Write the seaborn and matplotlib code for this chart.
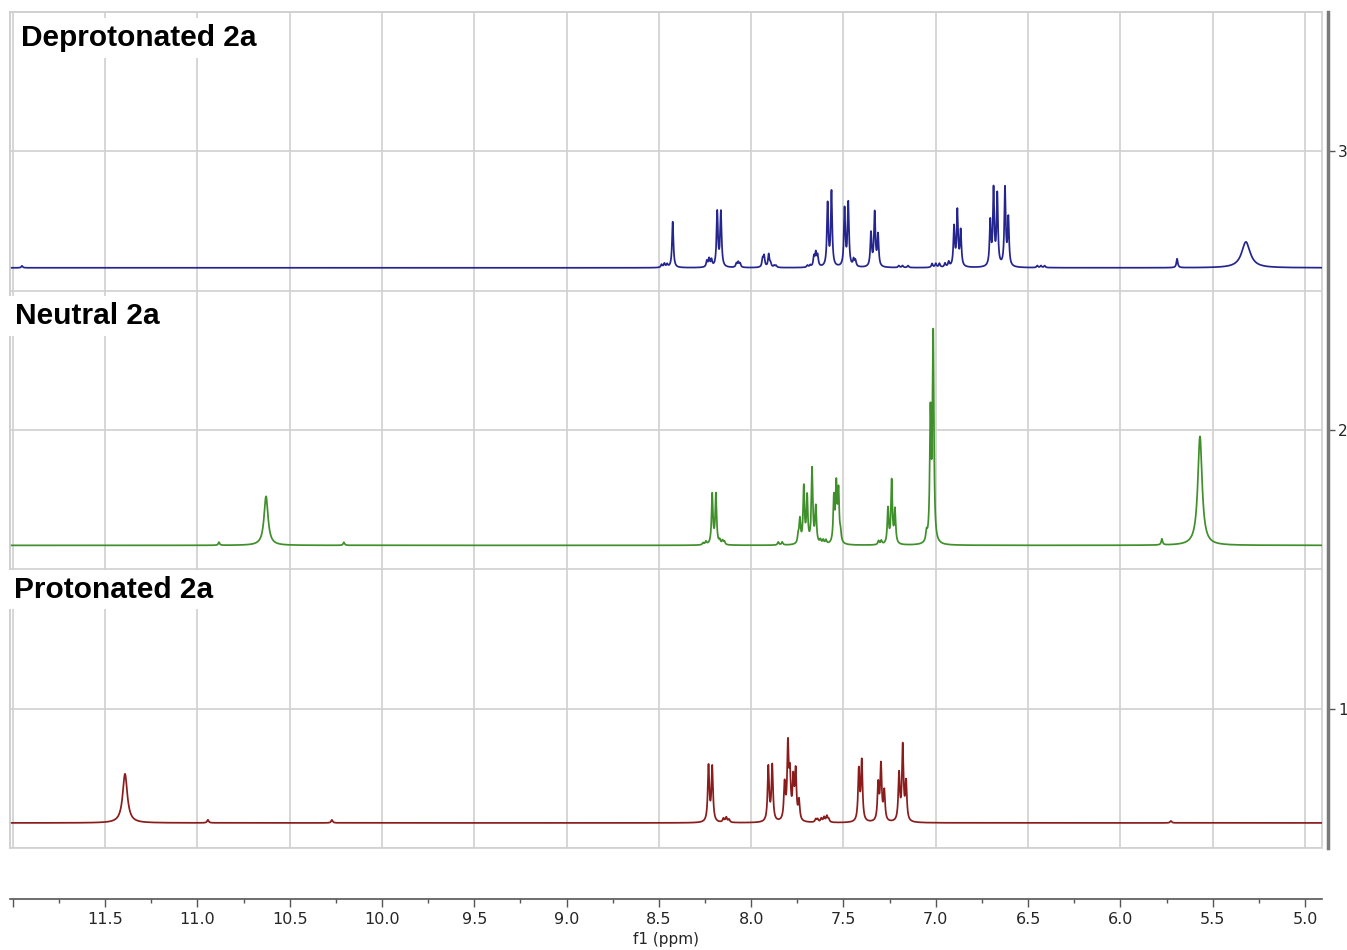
import numpy as np
import pandas as pd
import matplotlib
matplotlib.use("Agg")
import matplotlib.pyplot as plt
from matplotlib.patches import Rectangle
from matplotlib.ticker import FixedLocator, FixedFormatter, MultipleLocator
import seaborn as sns

# peak lists
# shift in ppm, height in stack units (1 unit = spacing of right axis ticks)
dep_shift = [11.95, 8.485, 8.47, 8.455, 8.425, 8.24, 8.228, 8.215, 8.184, 8.164,
             8.08, 8.07, 8.06, 7.938, 7.930, 7.905, 7.895, 7.875, 7.865, 7.695,
             7.68, 7.66, 7.65, 7.64, 7.586, 7.565, 7.494, 7.474, 7.445, 7.435,
             7.351, 7.331, 7.313, 7.20, 7.18, 7.15, 7.02, 7.00, 6.98, 6.95,
             6.93, 6.901, 6.883, 6.865, 6.705, 6.687, 6.667, 6.625, 6.607, 6.45,
             6.43, 6.41, 5.693]
dep_height = [0.007, 0.011, 0.014, 0.011, 0.165, 0.022, 0.029, 0.025, 0.197, 0.197,
              0.014, 0.018, 0.014, 0.029, 0.039, 0.047, 0.014, 0.007, 0.007, 0.007,
              0.007, 0.036, 0.047, 0.039, 0.225, 0.268, 0.207, 0.228, 0.025, 0.022,
              0.120, 0.193, 0.113, 0.007, 0.007, 0.007, 0.014, 0.014, 0.014, 0.014,
              0.018, 0.141, 0.198, 0.127, 0.158, 0.272, 0.255, 0.280, 0.170, 0.007,
              0.007, 0.007, 0.032]
dep_broad_shift = [5.32]
dep_broad_height = [0.093]
dep_broad_hwhm = [0.028]

neu_shift = [10.883, 10.206, 8.26, 8.245, 8.211, 8.191, 8.17, 8.155, 8.145, 7.853,
             7.832, 7.745, 7.736, 7.715, 7.697, 7.670, 7.650, 7.625, 7.61, 7.595,
             7.552, 7.539, 7.527, 7.516, 7.31, 7.295, 7.259, 7.239, 7.221, 7.05,
             7.029, 7.014, 5.775]
neu_height = [0.011, 0.011, 0.007, 0.011, 0.180, 0.180, 0.014, 0.014, 0.011, 0.011,
              0.011, 0.029, 0.084, 0.202, 0.166, 0.268, 0.130, 0.014, 0.014, 0.014,
              0.160, 0.200, 0.180, 0.032, 0.014, 0.014, 0.126, 0.226, 0.121, 0.032,
              0.450, 0.740, 0.022]
neu_broad_shift = [10.628, 5.569]
neu_broad_height = [0.176, 0.391]
neu_broad_hwhm = [0.013, 0.014]

pro_shift = [10.943, 10.271, 8.231, 8.211, 8.15, 8.135, 8.12, 7.907, 7.886, 7.819,
             7.801, 7.790, 7.772, 7.759, 7.741, 7.65, 7.64, 7.62, 7.605, 7.59,
             7.58, 7.417, 7.401, 7.312, 7.297, 7.279, 7.199, 7.179, 7.161, 5.726]
pro_height = [0.011, 0.011, 0.200, 0.196, 0.014, 0.018, 0.011, 0.196, 0.200, 0.128,
              0.262, 0.150, 0.140, 0.172, 0.070, 0.011, 0.011, 0.014, 0.018, 0.022,
              0.011, 0.182, 0.214, 0.130, 0.198, 0.105, 0.168, 0.268, 0.136, 0.007]
pro_broad_shift = [11.392]
pro_broad_height = [0.176]
pro_broad_hwhm = [0.015]

samples = ["Deprotonated 2a", "Neutral 2a", "Protonated 2a"]
baselines = [2.582, 1.586, 0.590]
line_hwhm = [0.0045, 0.0045, 0.005]
colors = ["#25258f", "#3f8f2a", "#8a1c1c"]

ppm = np.arange(4.90, 12.02, 0.0004)


def lorentz_sum(shifts, heights, hwhm):
    hwhm = np.broadcast_to(hwhm, (len(shifts),))
    y = np.zeros_like(ppm)
    for c, h, w in zip(shifts, heights, hwhm):
        y += h * w**2 / ((ppm - c)**2 + w**2)
    return y


peak_sets = [
    (dep_shift, dep_height, dep_broad_shift, dep_broad_height, dep_broad_hwhm),
    (neu_shift, neu_height, neu_broad_shift, neu_broad_height, neu_broad_hwhm),
    (pro_shift, pro_height, pro_broad_shift, pro_broad_height, pro_broad_hwhm),
]

frames = []
for name, base, lw, (s, h, bs, bh, bw) in zip(samples, baselines, line_hwhm, peak_sets):
    y = base + lorentz_sum(s, h, lw) + lorentz_sum(bs, bh, bw)
    frames.append(pd.DataFrame({"ppm": ppm, "intensity": y, "sample": name}))
df = pd.concat(frames, ignore_index=True)

sns.set_theme(style="whitegrid")
plt.rcParams["font.family"] = ["DejaVu Sans"]

fig = plt.figure(figsize=(13.47, 9.5), dpi=100)
ax = fig.add_axes([10 / 1347, 102 / 950, 1312 / 1347, 836 / 950])

sns.lineplot(data=df, x="ppm", y="intensity", hue="sample",
             palette=dict(zip(samples, colors)), estimator=None, sort=False,
             legend=False, linewidth=1.25, ax=ax)

ax.set_xlim(12.015, 4.908)
ax.set_ylim(0.5, 3.5)

# x axis: major every 0.5 ppm, minor every 0.25
xmaj = np.arange(5.0, 12.01, 0.5)
ax.xaxis.set_major_locator(FixedLocator(xmaj))
ax.xaxis.set_major_formatter(FixedFormatter(
    ["" if abs(v - 12.0) < 1e-6 else f"{v:.1f}" for v in xmaj]))
ax.xaxis.set_minor_locator(FixedLocator(np.arange(5.25, 12.0, 0.5)))
ax.tick_params(axis="x", which="major", direction="out", length=6, width=1,
               color="#555555", labelsize=11.5, pad=3, bottom=True)
ax.tick_params(axis="x", which="minor", direction="out", length=3, width=1,
               color="#555555", bottom=True)

# y axis on the right, grid every 0.5
ax.yaxis.tick_right()
ax.yaxis.set_major_locator(FixedLocator([1, 2, 3]))
ax.yaxis.set_minor_locator(MultipleLocator(0.5))
ax.tick_params(axis="y", which="major", direction="out", length=5, width=1,
               color="#555555", labelsize=11, pad=2, right=True, left=False)
ax.tick_params(axis="y", which="minor", length=0)

ax.grid(True, which="major", axis="x", color="#d0d0d0", linewidth=1.2)
ax.grid(True, which="both", axis="y", color="#d0d0d0", linewidth=1.2)
ax.set_axisbelow(True)

for side in ["left", "top"]:
    ax.spines[side].set_color("#d0d0d0")
    ax.spines[side].set_linewidth(1.2)
ax.spines["bottom"].set_position(("outward", 37))
ax.spines["bottom"].set_color("#555555")
ax.spines["bottom"].set_linewidth(1.2)
ax.spines["right"].set_position(("outward", 4.5))
ax.spines["right"].set_color("#7a7a7a")
ax.spines["right"].set_linewidth(2.5)

ax.add_patch(Rectangle((0, 0), 1, 1, transform=ax.transAxes, fill=False,
                       edgecolor="#d0d0d0", linewidth=1.2, clip_on=False, zorder=0.5))

ax.set_xlabel("f1 (ppm)", fontsize=11, labelpad=4)
ax.set_ylabel("")

label_pos = [(11.955, 3.407), (11.99, 2.409), (11.995, 1.427)]
for name, (lx, ly) in zip(samples, label_pos):
    ax.text(lx, ly, name, ha="left", va="center", fontsize=21.5, fontweight="bold",
            family=["Liberation Sans", "DejaVu Sans"], color="black",
            bbox=dict(facecolor="white", edgecolor="none", pad=4), zorder=3)

fig.savefig("out.png", dpi=100)
